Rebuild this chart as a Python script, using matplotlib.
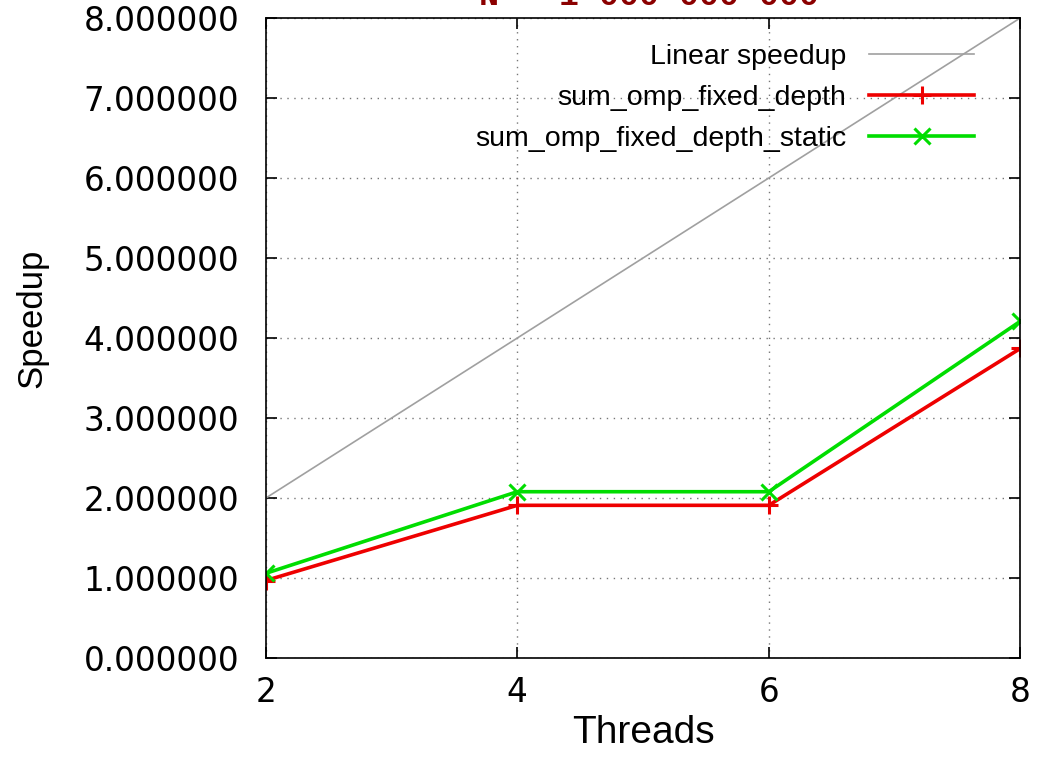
import matplotlib
matplotlib.use('Agg')
import matplotlib.pyplot as plt
from matplotlib.ticker import FormatStrFormatter

# data
threads = [2, 4, 6, 8]
linear_speedup = [2, 4, 6, 8]
fixed_depth = [0.97, 1.91, 1.91, 3.87]
fixed_depth_static = [1.06, 2.08, 2.08, 4.21]
y_ticks = [0, 1, 2, 3, 4, 5, 6, 7, 8]

fig = plt.figure(figsize=(10.38, 7.78), dpi=100)
ax = fig.add_axes([0.256, 0.154, 0.727, 0.823])

ax.plot(threads, linear_speedup, color='#a0a0a0', lw=1.2, label='Linear speedup')
ax.plot(threads, fixed_depth, color='#ee0000', lw=2.6, marker='+', ms=13, mew=2.2,
        label='sum_omp_fixed_depth')
ax.plot(threads, fixed_depth_static, color='#00dd00', lw=2.6, marker='x', ms=11, mew=2.2,
        label='sum_omp_fixed_depth_static')

ax.set_xlim(2, 8)
ax.set_ylim(0, 8)
ax.set_xticks(threads)
ax.set_yticks(y_ticks)
ax.yaxis.set_major_formatter(FormatStrFormatter('%.6f'))

ax.grid(True, color='#777777', linestyle=(0, (1, 4)), lw=1.0)
ax.tick_params(direction='in', length=8, width=1.2, top=True, right=True, labelsize=23.5)
ax.tick_params(axis='y', pad=19)
ax.tick_params(axis='x', pad=13)
for lab in ax.get_xticklabels() + ax.get_yticklabels():
    lab.set_family('DejaVu Sans')
for s in ax.spines.values():
    s.set_linewidth(1.2)

ax.set_xlabel('Threads', family='Liberation Sans', fontsize=28)
ax.set_ylabel('Speedup', family='Liberation Sans', fontsize=25)
ax.xaxis.set_label_coords(0.5, -(733 - 658) / 640, transform=ax.transAxes)
ax.yaxis.set_label_coords(-(266 - 32) / 754, 0.5 + (338 - 318) / 640)
ax.xaxis.label.set_va('center')
ax.yaxis.label.set_va('center')

leg = ax.legend(loc='upper right', frameon=False, markerfirst=False,
                bbox_to_anchor=(0.939, 0.959), borderpad=0, borderaxespad=0,
                prop={'family': 'Liberation Sans', 'size': 20.5},
                handlelength=3.7, handletextpad=0.8, labelspacing=0.52)
for t in leg.get_texts():
    t.set_ha('right')

# title sits mostly above the figure edge, as in the reference
fig.text(0.625, 1 - 5 / 778, 'N = 1 000 000 000', ha='center', va='baseline',
         family='Liberation Mono', weight='bold', fontsize=24, color='#8b0000')

fig.savefig('out.png', dpi=100)
